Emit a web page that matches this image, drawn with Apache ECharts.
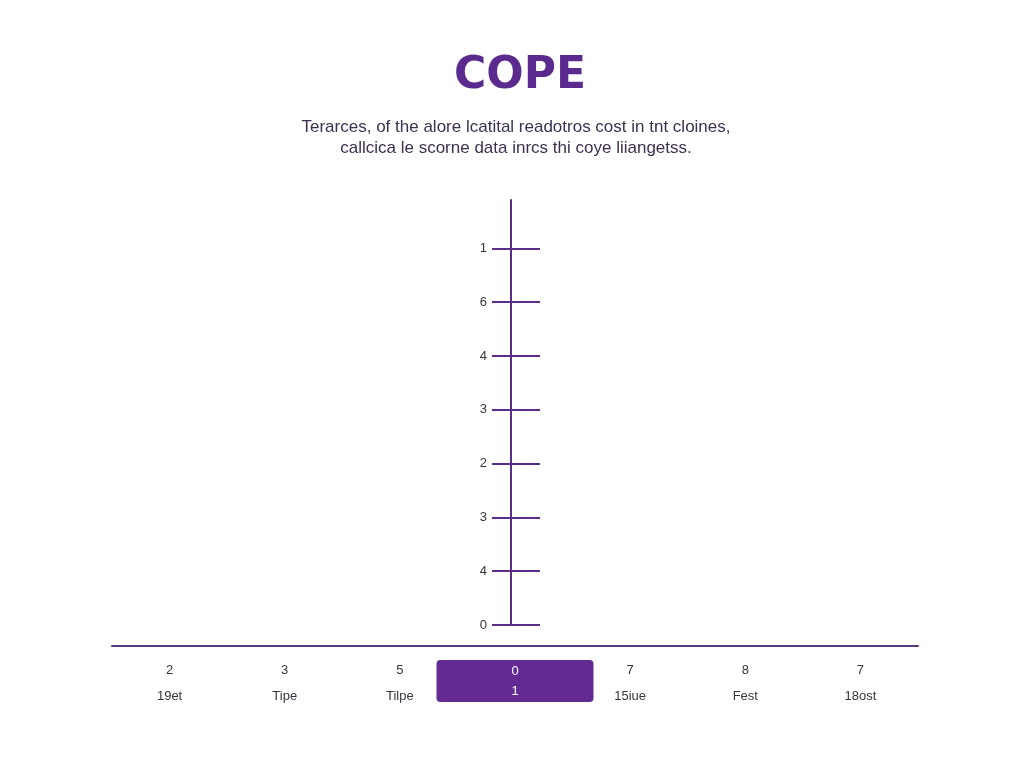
<!DOCTYPE html>
<html>
<head>
<meta charset="utf-8">
<script src="https://cdn.jsdelivr.net/npm/echarts@6/dist/echarts.min.js"></script>
<style>html,body{margin:0;padding:0;background:#fff;}#c{width:1024px;height:768px;}</style>
</head>
<body>
<div id="c"></div>
<script>
const titleText = 'COPE';
const subtitleText = 'Terarces, of the alore lcatital readotros cost in tnt cloines,\ncallcica le scorne data inrcs thi coye liiangetss.';
// vertical axis tick labels, bottom to top
const yTickValues = [0, 1, 2, 3, 4, 5, 6, 7];
const yTickLabels = ['0', '4', '3', '2', '3', '4', '6', '1'];
// bottom categories
const categories = ['19et', 'Tipe', 'Tilpe', '1', '15iue', 'Fest', '18ost'];
const categoryValues = [2, 3, 5, 0, 7, 8, 7];
const highlightIndex = 3;

const purple = '#5a2d86';
const boxPurple = '#622a92';
const textDark = '#3a3340';

const chart = echarts.init(document.getElementById('c'), null, {renderer: 'canvas'});
chart.setOption({
  backgroundColor: '#ffffff',
  animation: false,
  title: [
    {
      text: titleText, left: 515, top: 50, textAlign: 'center',
      textStyle: {fontFamily: 'DejaVu Sans', fontWeight: 'bold', fontSize: 44, color: '#5b2a8e'}
    },
    {
      text: subtitleText, left: 511, top: 112, textAlign: 'center',
      textStyle: {fontFamily: 'Liberation Sans', fontWeight: 'normal', fontSize: 17, lineHeight: 21, color: '#3d3050', align: 'center'}
    }
  ],
  grid: [
    {left: 511, width: 29, top: 200, bottom: 143, containLabel: false},
    {left: 112, right: 106, top: 600, height: 46, containLabel: false}
  ],
  xAxis: [
    {type: 'value', gridIndex: 0, min: 0, max: 1, show: false},
    {
      type: 'category', gridIndex: 1, position: 'bottom',
      data: categories.map((c, i) => i === highlightIndex ? {
        value: c,
        textStyle: {backgroundColor: boxPurple, borderRadius: 4, width: 157, padding: [1, 0, 0, 0], align: 'center'}
      } : c),
      axisLine: {show: true, lineStyle: {color: '#5c3a80', width: 2}},
      axisTick: {show: false},
      axisLabel: {
        interval: 0, margin: 14,
        formatter: function (v, i) {
          if (i === highlightIndex) return '{hv|' + categoryValues[i] + '}\n{hn|' + v + '}';
          return '{v|' + categoryValues[i] + '}\n{n|' + v + '}';
        },
        rich: {
          v: {fontFamily: 'Liberation Sans', fontSize: 13, lineHeight: 20, color: textDark, align: 'center'},
          n: {fontFamily: 'Liberation Sans', fontSize: 13, lineHeight: 32, color: textDark, align: 'center'},
          hv: {fontFamily: 'Liberation Sans', fontSize: 13, lineHeight: 20, color: '#ffffff', align: 'center'},
          hn: {fontFamily: 'Liberation Sans', fontSize: 13, lineHeight: 21, color: '#ffffff', align: 'center'}
        }
      },
      splitLine: {show: false}
    }
  ],
  yAxis: [
    {
      type: 'value', gridIndex: 0, position: 'left', min: 0, max: 7.9,
      axisLine: {show: true, lineStyle: {color: purple, width: 2}},
      axisTick: {show: true, length: 19, customValues: yTickValues, lineStyle: {color: purple, width: 2}},
      axisLabel: {
        customValues: yTickValues, margin: 24, fontFamily: 'Liberation Sans', fontSize: 13, color: textDark,
        formatter: function (v) { return yTickLabels[Math.round(v)]; }
      },
      splitLine: {show: true, showMaxLine: true, showMinLine: true, lineStyle: {color: purple, width: 2}}
    },
    {type: 'value', gridIndex: 1, min: 0, max: 1, show: false}
  ],
  series: []
});
</script>
</body>
</html>
